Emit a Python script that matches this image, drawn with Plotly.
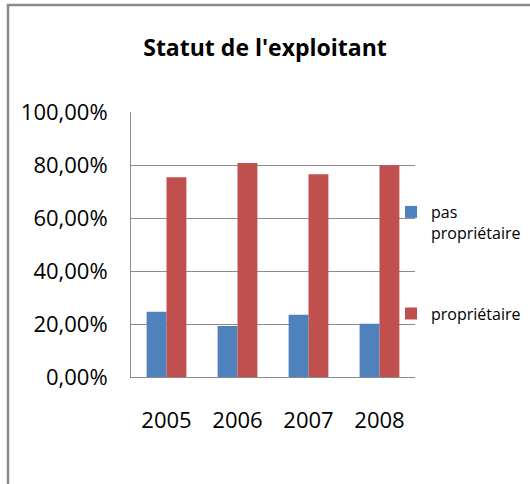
import plotly.graph_objects as go

years = ["2005", "2006", "2007", "2008"]
pas_proprietaire = [0.246, 0.192, 0.235, 0.201]
proprietaire = [0.754, 0.808, 0.765, 0.799]
series_names = ["pas<br>propriétaire", "propriétaire"]
title_text = "Statut de l'exploitant"

W, H = 530, 484
L, R, T, B = 131, 115, 112, 107
pw, ph = W - L - R, H - T - B

def px_x(x):
    return (x - L) / pw

def px_y(y):
    return (H - B - y) / ph

font_family = "Open Sans, Liberation Sans, sans-serif"

fig = go.Figure()
fig.add_trace(go.Bar(x=years, y=pas_proprietaire, name=series_names[0],
                     marker=dict(color="#4F81BD", line=dict(width=0)),
                     legendgroup="a"))
fig.add_trace(go.Bar(x=years, y=proprietaire, name=series_names[1],
                     marker=dict(color="#C0504D", line=dict(width=0)),
                     legendgroup="b"))

fig.update_layout(
    width=W, height=H,
    margin=dict(l=L, r=R, t=T, b=B, autoexpand=False),
    paper_bgcolor="white", plot_bgcolor="white",
    separators=",.",
    barmode="group", bargap=0.44, bargroupgap=0,
    font=dict(family=font_family, color="#000000"),
    title=dict(text="<b>" + title_text + "</b>", x=0.5, xref="container",
               y=1 - 48 / H, yref="container", yanchor="middle",
               xanchor="center", font=dict(size=23, color="#000000")),
    xaxis=dict(showline=True, linecolor="#8c8c8c", linewidth=1,
               showgrid=False, ticks="", tickfont=dict(size=22),
               ticklabelstandoff=24),
    yaxis=dict(range=[0, 1], dtick=0.2, tickformat=".2%",
               showline=True, linecolor="#8c8c8c", linewidth=1,
               showgrid=True, gridcolor="#8c8c8c", gridwidth=1,
               zeroline=False, ticks="", tickfont=dict(size=22),
               ticklabelstandoff=18),
    legend=dict(x=px_x(391), xanchor="left", y=px_y(195), yanchor="top",
                font=dict(size=16, color="#000000"),
                traceorder="grouped", tracegroupgap=57,
                valign="top", itemwidth=30, bgcolor="rgba(0,0,0,0)"),
    showlegend=True,
    shapes=[dict(type="rect", xref="paper", yref="paper",
                 x0=px_x(8), x1=px_x(545), y0=px_y(500), y1=px_y(5),
                 line=dict(color="#8a8a8a", width=2.5),
                 fillcolor="rgba(0,0,0,0)", layer="below")],
)

fig.write_html("out.html",
               config={"displayModeBar": False},
               post_script="document.body.style.margin='0';"
                           "document.body.style.overflow='hidden';")
